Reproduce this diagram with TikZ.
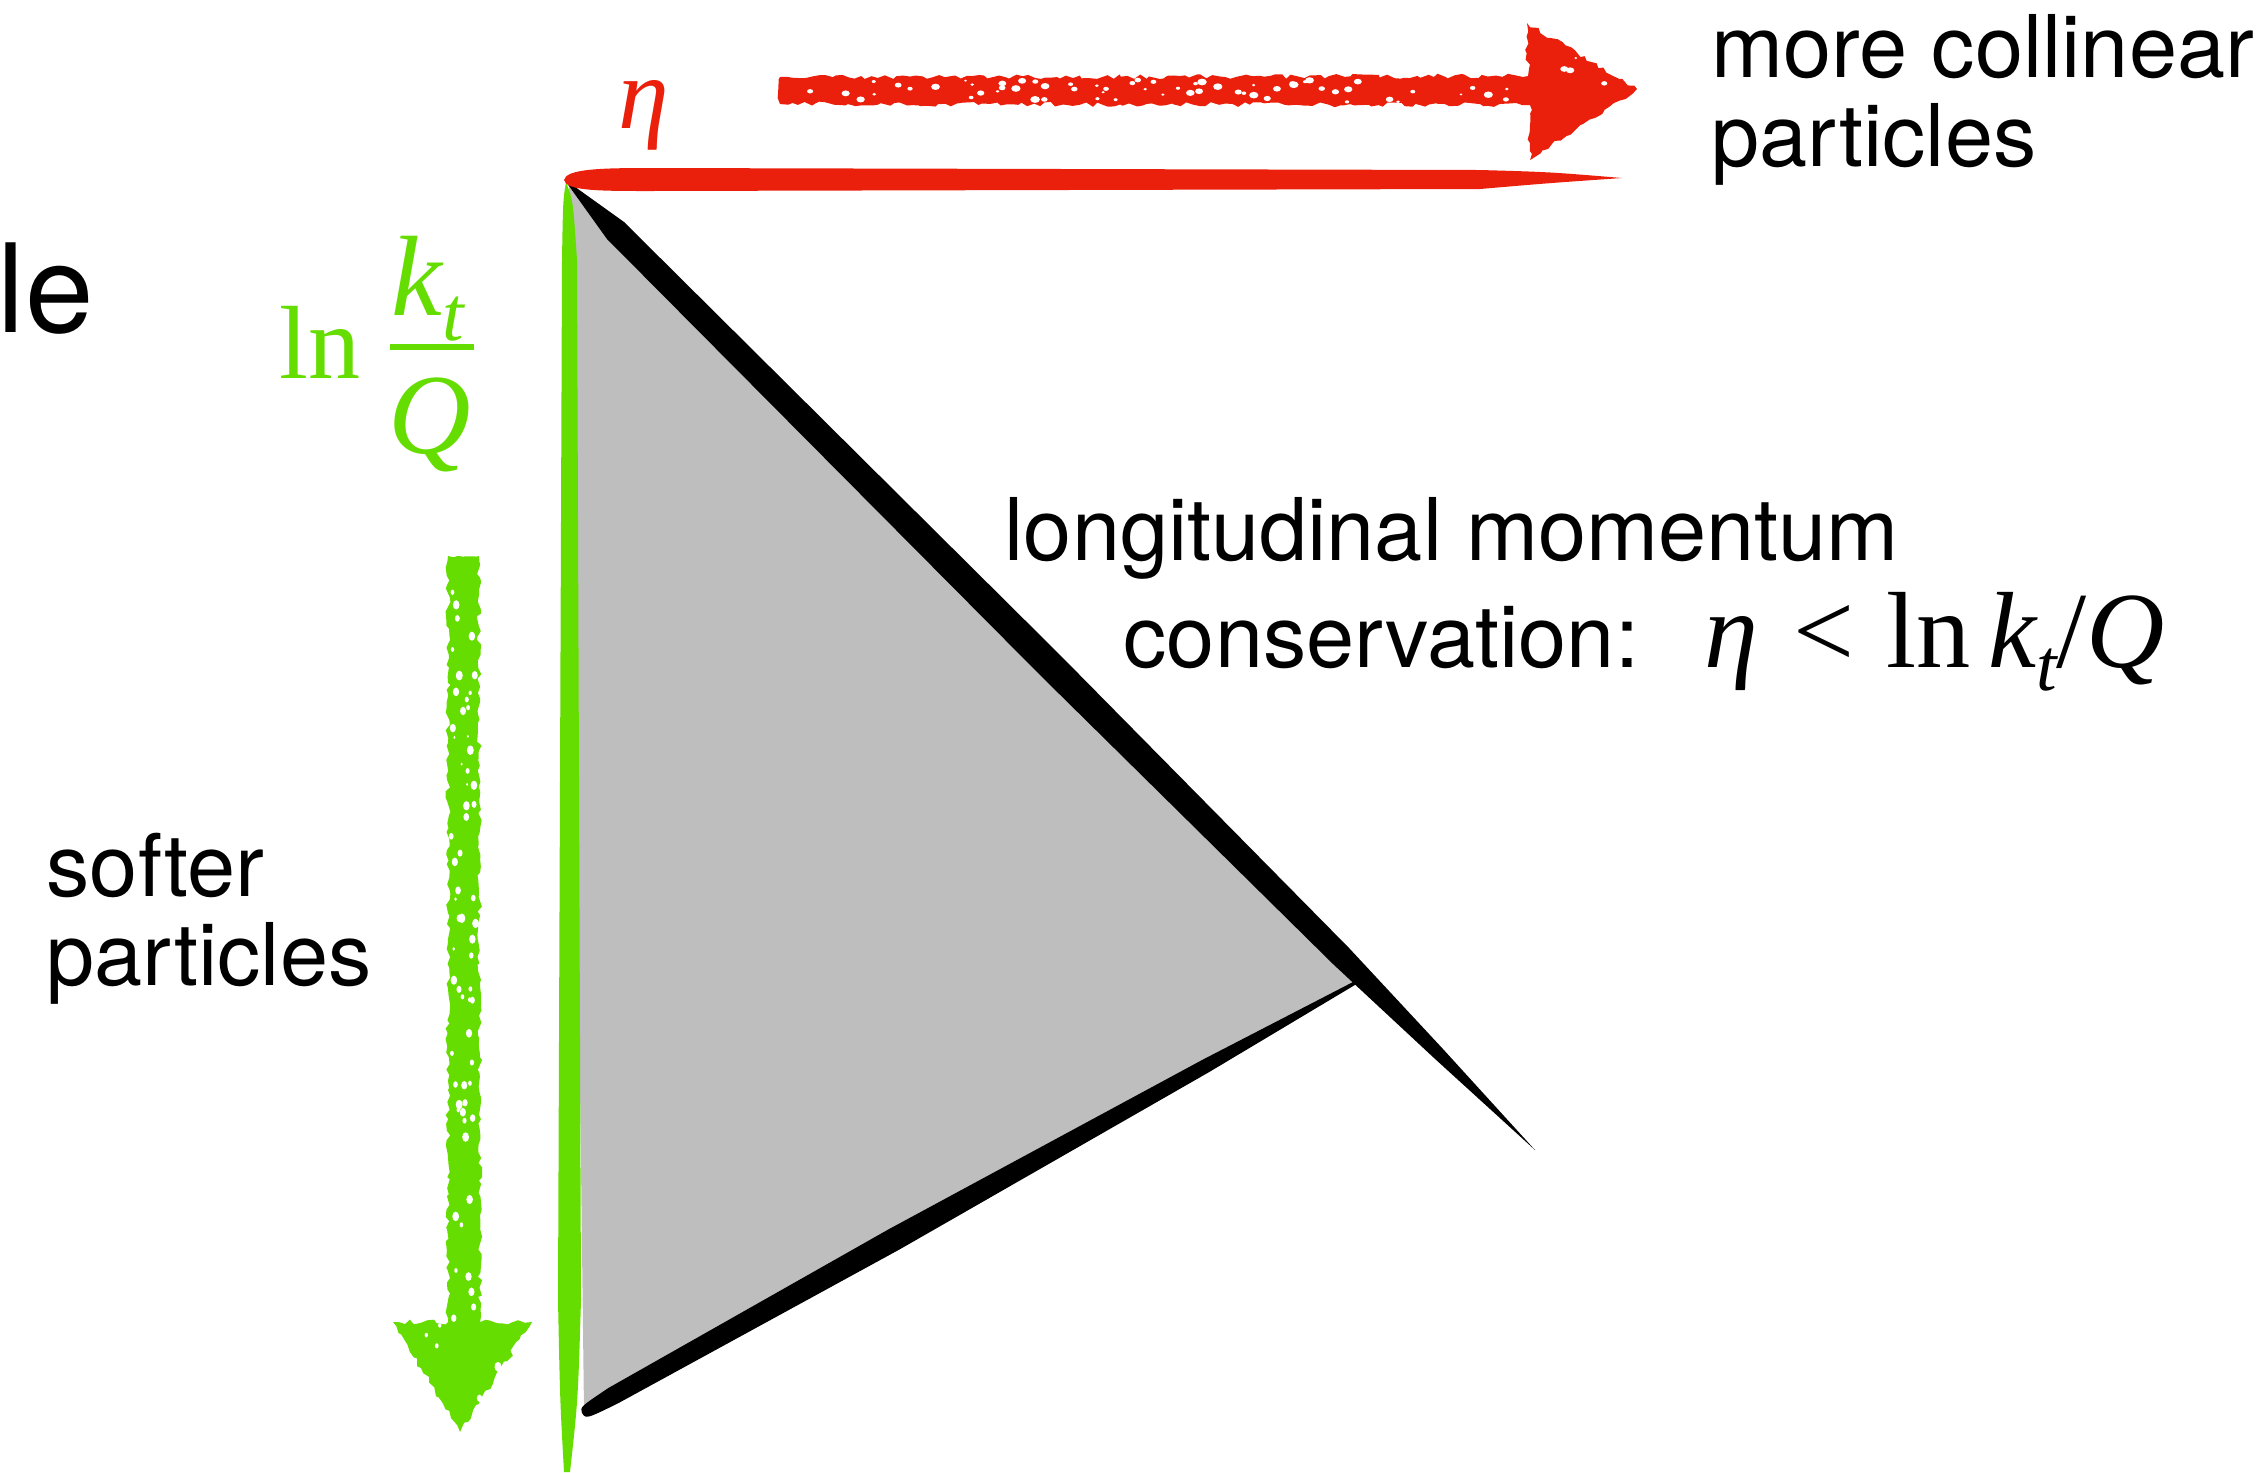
\documentclass[tikz,border=0pt]{standalone}
\usepackage{fontspec}
\usetikzlibrary{calc,decorations.pathmorphing}
\newfontfamily\hv{TeX Gyre Heros}
\newfontfamily\tms{Liberation Serif}
\definecolor{cred}{RGB}{234,32,12}
\definecolor{cgreen}{RGB}{102,221,0}
\definecolor{cgray}{RGB}{190,190,190}
\tikzset{
  sanstext/.style={font=\hv\fontsize{24.6}{25.3}\selectfont, inner sep=0pt, anchor=base west, align=left},
  serifgreen/.style={font=\tms\fontsize{29.6}{30}\selectfont, text=cgreen, inner sep=0pt},
  sketchy/.style={decorate, decoration={random steps, segment length=1.6pt, amplitude=0.7pt}},
}
\begin{document}
\begin{tikzpicture}[x=0.01cm,y=-0.01cm]
\pgfmathsetseed{11}
\useasboundingbox (0,0) rectangle (2264,1472);
% gray region
\fill[cgray] (569,184) -- (1362,979) -- (584,1411) -- cycle;
% green axis
\fill[cgreen] (566,182) .. controls (573,200) .. (577,260) -- (581,1300) .. controls (578,1400) .. (570,1472) -- (564,1472) .. controls (560,1400) .. (558,1300) -- (562,260) .. controls (563,200) .. (566,182) -- cycle;
% black diagonal
\coordinate (A) at (567,182);
\coordinate (B) at (1535,1150);
\fill[black] ($(A)+(0.5,-0.5)$) -- ($(A)!0.05!(B)+(8.5,-8.5)$) -- ($(A)!0.5!(B)+(10,-10)$) -- ($(A)!0.8!(B)+(8,-8)$) -- ($(A)!0.9!(B)+(4.5,-4.5)$) -- (B) -- ($(A)!0.9!(B)+(-4.5,4.5)$) -- ($(A)!0.8!(B)+(-8,8)$) -- ($(A)!0.5!(B)+(-10,10)$) -- ($(A)!0.05!(B)+(-8.5,8.5)$) -- ($(A)+(-0.5,0.5)$) -- cycle;
% black lower edge
\coordinate (C) at (582,1413);
\coordinate (D) at (1362,979);
\fill[black] (C) .. controls ($(C)+(-2,-6)$) .. ($(C)!0.04!(D)+(-4.4,-7.9)$) -- ($(C)!0.4!(D)+(-5.6,-10)$) -- ($(C)!0.8!(D)+(-3.4,-6.1)$) -- ($(D)+(-0.7,-1.3)$) -- ($(D)+(0.7,1.3)$) -- ($(C)!0.8!(D)+(3.4,6.1)$) -- ($(C)!0.4!(D)+(5.6,10)$) -- ($(C)!0.04!(D)+(4.4,7.9)$) .. controls ($(C)+(4,6)$) .. (C) -- cycle;
% red axis
\fill[cred] (564,180) .. controls (566,169) and (600,168) .. (650,168) -- (1480,170) .. controls (1550,172) .. (1622,178) .. controls (1550,183) .. (1480,189) -- (650,191) .. controls (600,191) and (566,191) .. (564,180) -- cycle;
% red sketchy arrow
\fill[cred, sketchy] (780,77) -- (1528,76) -- (1527,23) -- (1637,89) -- (1530,160) -- (1530,105) -- (780,104) -- cycle;
\foreach \i in {1,...,70}{
  \pgfmathsetmacro{\px}{790+rnd*830}
  \pgfmathsetmacro{\py}{\px<1520 ? 80+rnd*22 : 40+rnd*110}
  \pgfmathsetmacro{\pr}{1+rnd*2.5}
  \fill[white] (\px,\py) ellipse[x radius=\pr*1.4, y radius=\pr];
}
% green sketchy arrow
\fill[cgreen, sketchy] (448,556) -- (479,556) -- (480,1322) -- (532,1322) -- (460,1432) -- (393,1322) -- (448,1322) -- cycle;
\foreach \i in {1,...,70}{
  \pgfmathsetmacro{\py}{565+rnd*840}
  \pgfmathsetmacro{\px}{\py<1320 ? 451+rnd*25 : 420+rnd*80}
  \pgfmathsetmacro{\pr}{1+rnd*2.5}
  \fill[white] (\px,\py) ellipse[x radius=\pr, y radius=\pr*1.4];
}
% texts
\node[font=\hv\fontsize{35}{37}\selectfont, inner sep=0pt, anchor=base west] (le) at (-3,332) {le};
\node[font=\tms\itshape\fontsize{29}{30}\selectfont, text=cred, inner sep=0pt, anchor=base] (eta) at (644,128) {η};
\node[sanstext] (coll) at (1711,166) {more collinear\\particles};
\node[sanstext] (soft) at (46,985) {softer\\particles};
\node[sanstext] (long) at (1004,560) {longitudinal momentum};
\node[sanstext] (cons) at (1123,667) {conservation:};
\node[font=\tms\fontsize{30.8}{32}\selectfont, inner sep=0pt, anchor=base west] (ineq) at (1704,667)
  {\itshape η\hspace{0.32em}\upshape<\hspace{0.3em}ln\hspace{0.16em}\itshape k\raisebox{-0.22em}{\fontsize{21}{21}\selectfont t}\upshape/\itshape Q};
% green label
\node[serifgreen, anchor=base west] (ln) at (279,378) {ln};
\node[serifgreen, font=\tms\fontsize{32.5}{33}\selectfont, anchor=base] (kt) at (428,315) {\itshape k\raisebox{-0.22em}{\fontsize{22}{22}\selectfont t}};
\node[serifgreen, font=\tms\fontsize{32.5}{33}\selectfont, anchor=base] (Q) at (430,453) {\itshape Q};
\fill[cgreen] (390,344) rectangle (474,350);
\end{tikzpicture}
\end{document}
